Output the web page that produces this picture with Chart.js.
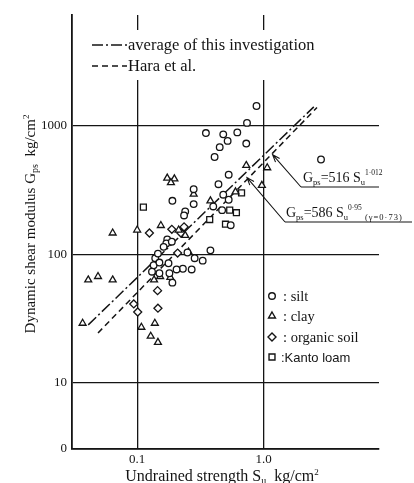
<!DOCTYPE html>
<html>
<head>
<meta charset="utf-8">
<script src="https://cdn.jsdelivr.net/npm/chart.js@4.4.1/dist/chart.umd.min.js"></script>
<style>
  html, body { margin: 0; padding: 0; background: #fff; }
</style>
</head>
<body>
<canvas id="chart" width="414" height="483"></canvas>
<script>
// [Su (kg/cm2), Gps (kg/cm2)] for each soil group
const silt = [
  [0.88, 1420], [0.74, 1050], [0.35, 875], [0.48, 855], [0.62, 885], [0.52, 760], [0.45, 680],
  [0.73, 725], [0.41, 570], [2.85, 545], [0.53, 415], [0.44, 350], [0.28, 320], [0.19, 260],
  [0.28, 245], [0.24, 215], [0.235, 200], [0.48, 290], [0.53, 265], [0.40, 235], [0.47, 220],
  [0.55, 168], [0.173, 130], [0.17, 121], [0.38, 107], [0.285, 93], [0.33, 89], [0.25, 103],
  [0.23, 77], [0.27, 76], [0.205, 76], [0.177, 85], [0.139, 93], [0.146, 101], [0.162, 114],
  [0.135, 82], [0.15, 86], [0.131, 73], [0.15, 71], [0.18, 71], [0.19, 60], [0.188, 125]
]
const clay = [
  [0.173, 390], [0.197, 385], [0.185, 360], [0.28, 293], [0.38, 260], [0.6, 305], [0.73, 490],
  [1.07, 470], [0.97, 343], [0.154, 167], [0.213, 154], [0.064, 146], [0.1, 154], [0.24, 140],
  [0.041, 63], [0.049, 67], [0.064, 63], [0.037, 29], [0.136, 63], [0.152, 67], [0.183, 66],
  [0.255, 104], [0.108, 27], [0.138, 29], [0.128, 23], [0.146, 20.6]
]
const organicSoil = [
  [0.125, 146], [0.188, 156], [0.235, 163], [0.222, 146], [0.209, 102], [0.145, 52],
  [0.094, 41], [0.101, 35.5], [0.146, 38]
]
const kantoLoam = [
  [0.112, 232], [0.375, 186], [0.5, 171], [0.54, 220], [0.61, 210], [0.67, 300]
]

// fitted lines Gps = a * Su^b, drawn over the given Su span
const averageFit = [586, 0.95]
const averageSpan = [0.041, 2.5]
const haraFit = [516, 1.012]
const haraSpan = [0.049, 2.65]

const xTicks = [0.1, 1]
const xTickLabels = ['0.1', '1.0']
const yTicks = [3.05, 10, 100, 1000]
const yTickLabels = ['0', '10', '100', '1000']

const serif = '"Liberation Serif", "DejaVu Serif", serif'
const sans = '"Liberation Sans", Arial, sans-serif'
const ink = '#141414'

const toPoints = pairs => pairs.map(([x, y]) => ({ x, y }))
const fitLine = ([a, b], span) => span.map(s => ({ x: s, y: a * Math.pow(s, b) }))

const markerStyles = {
  silt: { pointStyle: 'circle', radius: 3.3 },
  clay: { pointStyle: 'triangle', radius: 4 },
  organic: { pointStyle: 'rectRot', radius: 4 },
  loam: { pointStyle: 'rect', radius: 4.2 }
}

function scatterSet (label, pairs, style) {
  return {
    label,
    data: toPoints(pairs),
    pointStyle: style.pointStyle,
    pointRadius: style.radius,
    pointBorderWidth: 1.3,
    pointBorderColor: ink,
    pointBackgroundColor: '#fff'
  }
}

// draws text runs with subscripts / superscripts, returns the end x
function runs (ctx, x, y, parts, family) {
  parts.forEach(([t, size, dy, spacing]) => {
    ctx.font = size + 'px ' + (family || serif)
    ctx.letterSpacing = (spacing || 0) + 'px'
    ctx.fillText(t, x, y + dy)
    x += ctx.measureText(t).width
  })
  ctx.letterSpacing = '0px'
  return x
}
function runsWidth (ctx, parts, family) {
  const w = parts.reduce((w, [t, size, dy, spacing]) => {
    ctx.font = size + 'px ' + (family || serif)
    ctx.letterSpacing = (spacing || 0) + 'px'
    return w + ctx.measureText(t).width
  }, 0)
  ctx.letterSpacing = '0px'
  return w
}

function arrow (ctx, x0, y0, x1, y1) {
  ctx.beginPath()
  ctx.moveTo(x0, y0)
  ctx.lineTo(x1, y1)
  const a = Math.atan2(y1 - y0, x1 - x0)
  const len = 8
  ctx.moveTo(x1 - len * Math.cos(a - 0.35), y1 - len * Math.sin(a - 0.35))
  ctx.lineTo(x1, y1)
  ctx.lineTo(x1 - len * Math.cos(a + 0.35), y1 - len * Math.sin(a + 0.35))
  ctx.stroke()
}

const figureText = {
  id: 'figureText',
  afterDraw (chart) {
    const { ctx, scales: { x, y } } = chart
    ctx.save()
    ctx.textAlign = 'left'
    ctx.textBaseline = 'alphabetic'

    // key for the two fitted lines, cut out of the grid
    ctx.fillStyle = '#fff'
    ctx.fillRect(88, 30, 250, 50)
    ctx.fillStyle = ink
    ctx.strokeStyle = ink
    ctx.lineWidth = 1.4
    ctx.setLineDash([11, 3, 2, 3])
    ctx.beginPath(); ctx.moveTo(92, 45); ctx.lineTo(127, 45); ctx.stroke()
    ctx.setLineDash([6, 4])
    ctx.beginPath(); ctx.moveTo(92, 66); ctx.lineTo(127, 66); ctx.stroke()
    ctx.setLineDash([])
    ctx.font = '16.5px ' + serif
    ctx.fillText('average of this investigation', 128, 50)
    ctx.fillText('Hara et al.', 128, 71)

    // equations with leaders to their lines
    ctx.lineWidth = 1.1
    const f1 = [['G', 14, 0], ['ps', 8.5, 3], ['=516 S', 14, 0], ['u', 8.5, 3], ['1·012', 7.5, -7]]
    runs(ctx, 303, 182, f1)
    ctx.beginPath(); ctx.moveTo(301, 187); ctx.lineTo(379, 187); ctx.stroke()
    arrow(ctx, 301, 187, x.getPixelForValue(1.18), y.getPixelForValue(594))

    const f2 = [['G', 14, 0], ['ps', 8.5, 3], ['=586 S', 14, 0], ['u', 8.5, 3], ['0·95', 7.5, -7], [' (γ=0·73)', 8.5, 3, 1]]
    runs(ctx, 286, 217, f2)
    ctx.beginPath(); ctx.moveTo(285, 222); ctx.lineTo(412, 222); ctx.stroke()
    arrow(ctx, 285, 222, x.getPixelForValue(0.74), y.getPixelForValue(394))

    // marker key
    const key = [
      [markerStyles.silt, ': silt', 296, serif],
      [markerStyles.clay, ': clay', 316, serif],
      [markerStyles.organic, ': organic soil', 337, serif],
      [markerStyles.loam, ':Kanto loam', 357, sans]
    ]
    key.forEach(([st, text, cy, fam]) => {
      ctx.fillStyle = '#fff'
      ctx.strokeStyle = ink
      ctx.lineWidth = 1.4
      Chart.helpers.drawPoint(ctx, { pointStyle: st.pointStyle, radius: st.radius, rotation: 0, borderWidth: 1.4 }, 272, cy)
      ctx.fillStyle = ink
      ctx.font = (fam === sans ? '13px ' : '14.5px ') + fam
      ctx.fillText(text, fam === sans ? 281 : 283, cy + 4.5)
    })

    // axis titles
    ctx.fillStyle = ink
    const xt = [['Undrained strength S', 16, 0], ['u', 10, 3], ['  kg/cm', 16, 0], ['2', 9, -6]]
    runs(ctx, 222 - runsWidth(ctx, xt) / 2, 481, xt)

    const yt = [['Dynamic shear modulus G', 15, 0], ['ps', 10, 3], ['  kg/cm', 15, 0], ['2', 9, -6]]
    ctx.translate(35, 224)
    ctx.rotate(-Math.PI / 2)
    runs(ctx, -runsWidth(ctx, yt) / 2, 0, yt)
    ctx.restore()
  }
}

const tickFont = { family: serif, size: 13 }

new Chart(document.getElementById('chart'), {
  type: 'scatter',
  data: {
    datasets: [
      scatterSet('silt', silt, markerStyles.silt),
      scatterSet('clay', clay, markerStyles.clay),
      scatterSet('organic soil', organicSoil, markerStyles.organic),
      scatterSet('Kanto loam', kantoLoam, markerStyles.loam),
      {
        type: 'line',
        label: 'average of this investigation',
        data: fitLine(averageFit, averageSpan),
        borderColor: ink,
        borderWidth: 1.5,
        borderDash: [11, 3, 2, 3],
        pointRadius: 0,
        fill: false
      },
      {
        type: 'line',
        label: 'Hara et al.',
        data: fitLine(haraFit, haraSpan),
        borderColor: ink,
        borderWidth: 1.5,
        borderDash: [6, 4],
        pointRadius: 0,
        fill: false
      }
    ]
  },
  options: {
    responsive: false,
    animation: false,
    layout: { padding: { top: 15, right: 35, left: 0, bottom: 0 } },
    plugins: { legend: { display: false }, tooltip: { enabled: false } },
    scales: {
      x: {
        type: 'logarithmic',
        bounds: 'data',
        min: 0.0305,
        max: 8.2,
        afterFit: s => { s.height = 34 },
        afterBuildTicks: s => { s.ticks = xTicks.map(v => ({ value: v })) },
        ticks: {
          callback: (v, i) => xTickLabels[i],
          font: tickFont,
          color: ink,
          padding: 3,
          maxRotation: 0,
          autoSkip: false
        },
        grid: { color: ink, lineWidth: 1.3, drawTicks: false },
        border: { display: true, color: ink, width: 1.8 },
        title: { display: false }
      },
      y: {
        type: 'logarithmic',
        bounds: 'data',
        min: yTicks[0],
        max: 7250,
        afterFit: s => { s.width = 72 },
        afterBuildTicks: s => { s.ticks = yTicks.map(v => ({ value: v })) },
        ticks: {
          callback: (v, i) => yTickLabels[i],
          font: tickFont,
          color: ink,
          padding: 5,
          autoSkip: false
        },
        grid: { color: ink, lineWidth: 1.3, drawTicks: false },
        border: { display: true, color: ink, width: 1.8 },
        title: { display: false }
      }
    }
  },
  plugins: [figureText]
})
</script>
</body>
</html>
